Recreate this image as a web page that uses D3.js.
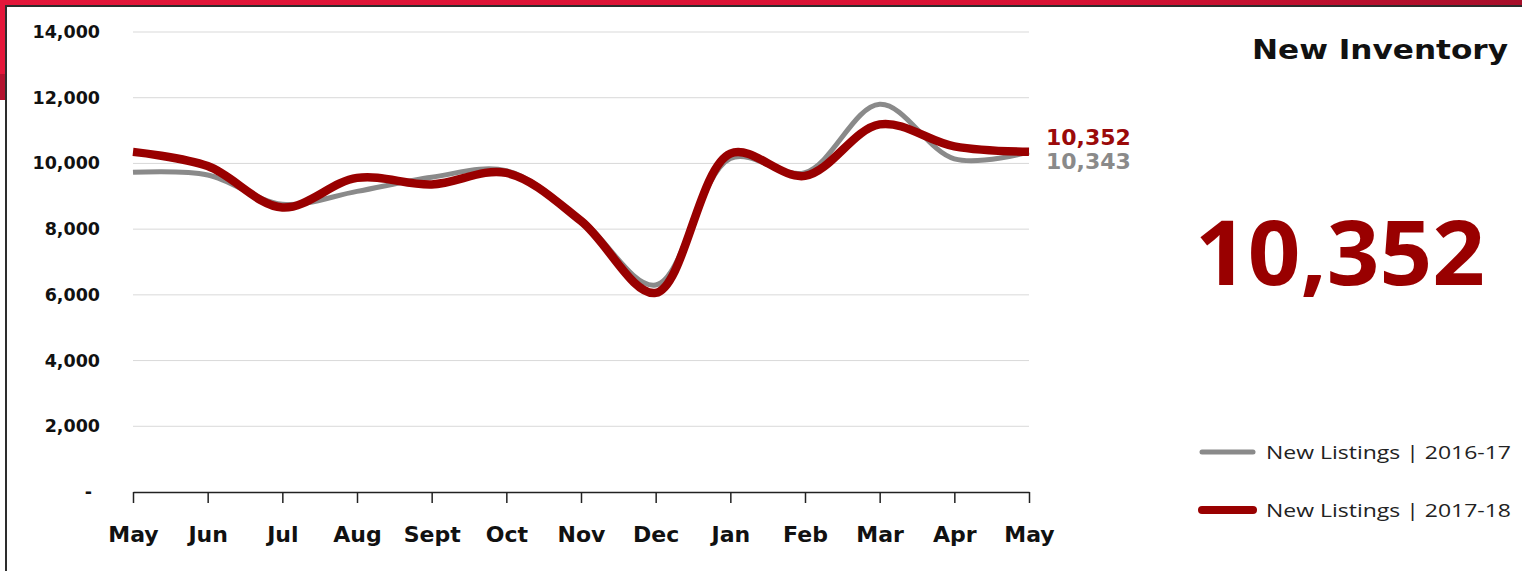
<!DOCTYPE html>
<html>
<head>
<meta charset="utf-8">
<script src="https://cdn.jsdelivr.net/npm/d3@7"></script>
<style>
  html, body { margin: 0; padding: 0; background: #fff; }
  svg { display: block; }
</style>
</head>
<body>
<svg id="chart" width="1522" height="571"></svg>
<script>
// Monthly new listings, May through May
const months = ["May", "Jun", "Jul", "Aug", "Sept", "Oct", "Nov", "Dec", "Jan", "Feb", "Mar", "Apr", "May"];
const listings2016 = [9730, 9650, 8760, 9150, 9580, 9780, 8300, 6300, 10150, 9720, 11800, 10140, 10343];
const listings2017 = [10352, 9920, 8660, 9560, 9360, 9710, 8250, 6060, 10300, 9620, 11190, 10520, 10352];
const yTicks = [0, 2000, 4000, 6000, 8000, 10000, 12000, 14000];
const seriesNames = ["New Listings | 2016-17", "New Listings | 2017-18"];
const chartTitle = "New Inventory";

const svg = d3.select("#chart");
const W = 1522, H = 571;

// Frame: red header strip, side accent and dark edge
const grad = svg.append("defs").append("linearGradient").attr("id", "band");
grad.append("stop").attr("offset", "0%").attr("stop-color", "#e3173a");
grad.append("stop").attr("offset", "70%").attr("stop-color", "#d81234");
grad.append("stop").attr("offset", "100%").attr("stop-color", "#a70f2a");
svg.append("rect").attr("x", 0).attr("y", 0).attr("width", W).attr("height", 6).attr("fill", "url(#band)");
svg.append("rect").attr("x", 0).attr("y", 0).attr("width", 6).attr("height", 74).attr("fill", "#e3173a");
svg.append("rect").attr("x", 0).attr("y", 74).attr("width", 6).attr("height", 26).attr("fill", "#b3132f");
svg.append("rect").attr("x", 5).attr("y", 5).attr("width", W - 5).attr("height", 2).attr("fill", "#2d2d2d");
svg.append("rect").attr("x", 5).attr("y", 5).attr("width", 2).attr("height", H - 5).attr("fill", "#2d2d2d");

const x = d3.scalePoint().domain(d3.range(months.length)).range([133, 1029]);
const y = d3.scaleLinear().domain([0, 14000]).range([492, 32]);

// Gridlines
svg.append("g")
  .selectAll("line")
  .data(yTicks.filter(d => d > 0))
  .join("line")
  .attr("x1", 133).attr("x2", 1029)
  .attr("y1", d => y(d)).attr("y2", d => y(d))
  .attr("stroke", "#d9d9d9").attr("stroke-width", 1);

// Y axis labels
const fmt = d3.format(",");
svg.append("g")
  .selectAll("text")
  .data(yTicks)
  .join("text")
  .attr("x", d => d === 0 ? 92 : 100)
  .attr("y", d => y(d) + 6)
  .attr("text-anchor", "end")
  .attr("font-family", "DejaVu Sans")
  .attr("font-weight", "bold")
  .attr("font-size", 17.5)
  .attr("fill", "#111")
  .text(d => d === 0 ? "-" : fmt(d));

// X axis
const xAxis = d3.axisBottom(x)
  .tickSize(11)
  .tickSizeOuter(0)
  .tickFormat(i => months[i]);
const gx = svg.append("g").attr("transform", "translate(0,492)").call(xAxis);
gx.select(".domain").attr("stroke", "#222").attr("stroke-width", 1.5);
gx.selectAll(".tick line").attr("stroke", "#222").attr("stroke-width", 1.5);
gx.selectAll(".tick text")
  .attr("y", 34)
  .attr("font-family", "DejaVu Sans")
  .attr("font-weight", "bold")
  .attr("font-size", 22)
  .attr("fill", "#111");

// Smoothed series lines
const line = d3.line()
  .x((d, i) => x(i))
  .y(d => y(d))
  .curve(d3.curveCatmullRom.alpha(0.5));

svg.append("path")
  .datum(listings2016)
  .attr("d", line)
  .attr("fill", "none")
  .attr("stroke", "#8a8a8a")
  .attr("stroke-width", 5)
  .attr("stroke-linejoin", "round");

svg.append("path")
  .datum(listings2017)
  .attr("d", line)
  .attr("fill", "none")
  .attr("stroke", "#990000")
  .attr("stroke-width", 8.5)
  .attr("stroke-linejoin", "round");

// End-of-line value labels
const last = months.length - 1;
svg.append("text")
  .attr("x", 1046).attr("y", 145)
  .attr("font-family", "DejaVu Sans").attr("font-weight", "bold").attr("font-size", 22)
  .attr("fill", "#9b0a0a")
  .text(fmt(listings2017[last]));
svg.append("text")
  .attr("x", 1046).attr("y", 169)
  .attr("font-family", "DejaVu Sans").attr("font-weight", "bold").attr("font-size", 22)
  .attr("fill", "#8a8a8a")
  .text(fmt(listings2016[last]));

// Title
svg.append("text")
  .attr("x", 1508).attr("y", 59)
  .attr("text-anchor", "end")
  .attr("font-family", "DejaVu Sans").attr("font-weight", "bold").attr("font-size", 27)
  .attr("textLength", 256).attr("lengthAdjust", "spacingAndGlyphs")
  .attr("fill", "#111")
  .text(chartTitle);

// Headline figure
svg.append("text")
  .attr("x", 1195).attr("y", 285)
  .attr("font-family", "Open Sans").attr("font-weight", "bold").attr("font-size", 90)
  .attr("textLength", 290).attr("lengthAdjust", "spacingAndGlyphs")
  .attr("fill", "#990000")
  .text(fmt(listings2017[last]));

// Legend
const legend = svg.append("g");
const legendItems = [
  { name: seriesNames[0], color: "#8a8a8a", width: 5, y: 452 },
  { name: seriesNames[1], color: "#990000", width: 8, y: 510 }
];
legend.selectAll("line")
  .data(legendItems)
  .join("line")
  .attr("x1", 1202).attr("x2", 1253)
  .attr("y1", d => d.y).attr("y2", d => d.y)
  .attr("stroke", d => d.color)
  .attr("stroke-width", d => d.width)
  .attr("stroke-linecap", "round");
legend.selectAll("text")
  .data(legendItems)
  .join("text")
  .attr("x", 1266)
  .attr("y", d => d.y + 7)
  .attr("font-family", "Open Sans").attr("font-size", 19)
  .attr("textLength", 245).attr("lengthAdjust", "spacingAndGlyphs")
  .attr("fill", "#222")
  .text(d => d.name);
</script>
</body>
</html>
